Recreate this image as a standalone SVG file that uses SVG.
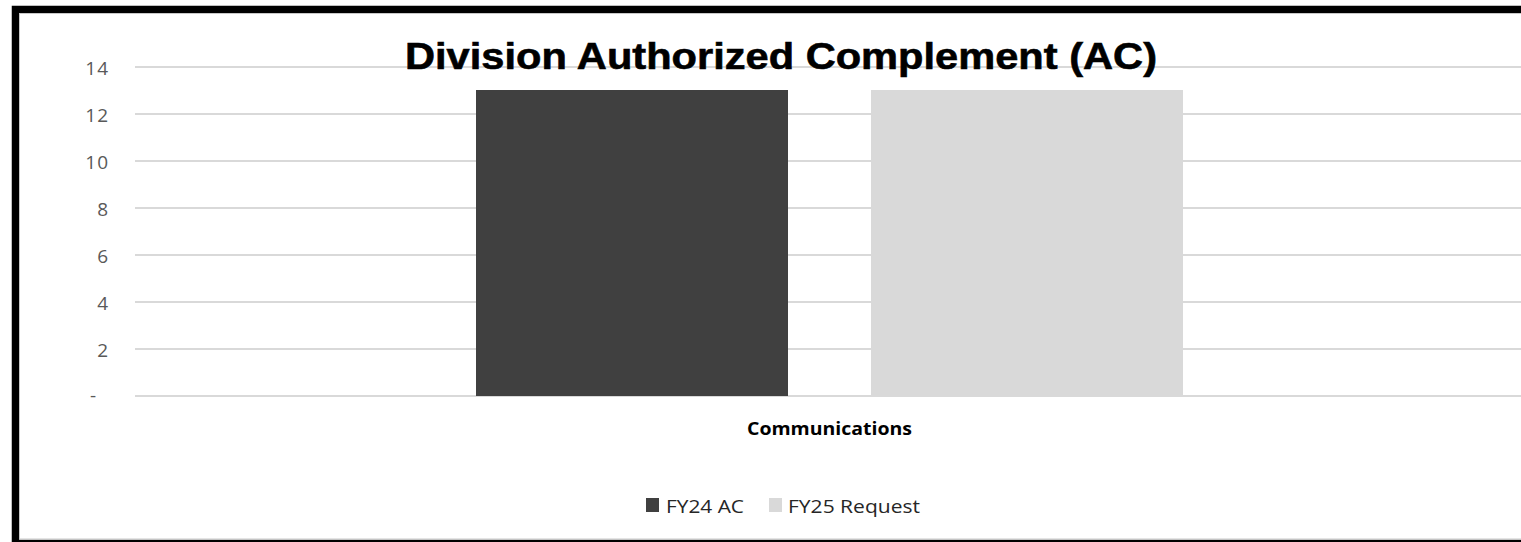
<svg xmlns="http://www.w3.org/2000/svg" width="1521" height="542" viewBox="0 0 1521 542">
<style>
.grid{stroke:#d9d9d9;stroke-width:2;fill:none}
.ytick{font-family:"Open Sans","Liberation Sans",sans-serif;font-size:19px;letter-spacing:1px;fill:#595959;text-anchor:end}
.title{font-family:"Liberation Sans",Arial,sans-serif;font-weight:bold;font-size:37px;fill:#000;stroke:#000;stroke-width:0.6}
.cat{font-family:"Open Sans","Liberation Sans",sans-serif;font-weight:bold;font-size:18px;fill:#000}
.leg{font-family:"Open Sans","Liberation Sans",sans-serif;font-size:19px;fill:#262626}
</style>
<rect x="0" y="0" width="1521" height="542" fill="#ffffff"/>
<g id="frame">
<rect x="15.5" y="9.5" width="1600" height="534" fill="none" stroke="#000" stroke-width="7.5"/>
<rect x="19.5" y="13.5" width="1600" height="525.5" fill="none" stroke="#c8c8c8" stroke-width="1"/>
</g>
<g id="gridlines">
<line class="grid" x1="135" y1="67" x2="1521" y2="67"/>
<line class="grid" x1="135" y1="114" x2="1521" y2="114"/>
<line class="grid" x1="135" y1="161" x2="1521" y2="161"/>
<line class="grid" x1="135" y1="208" x2="1521" y2="208"/>
<line class="grid" x1="135" y1="255" x2="1521" y2="255"/>
<line class="grid" x1="135" y1="302" x2="1521" y2="302"/>
<line class="grid" x1="135" y1="349" x2="1521" y2="349"/>
<line class="grid" x1="135" y1="396" x2="1521" y2="396"/>
</g>
<g id="y-axis">
<text class="ytick" x="109" y="75">14</text>
<text class="ytick" x="109" y="122">12</text>
<text class="ytick" x="109" y="169">10</text>
<text class="ytick" x="109" y="216">8</text>
<text class="ytick" x="109" y="263">6</text>
<text class="ytick" x="109" y="310">4</text>
<text class="ytick" x="109" y="357">2</text>
<text class="ytick" x="97" y="402">-</text>
</g>
<g id="bar-fy24">
<rect x="476" y="90" width="312" height="306" fill="#404040"/>
</g>
<g id="bar-fy25">
<rect x="871" y="90" width="312" height="306" fill="#d9d9d9"/>
</g>
<g id="title">
<text class="title" x="405" y="69" textLength="752" lengthAdjust="spacingAndGlyphs">Division Authorized Complement (AC)</text>
</g>
<g id="category">
<text class="cat" x="747" y="435" textLength="165" lengthAdjust="spacingAndGlyphs">Communications</text>
</g>
<g id="legend">
<rect x="646" y="498" width="13" height="14" fill="#404040"/>
<text class="leg" x="666" y="513" textLength="78" lengthAdjust="spacingAndGlyphs">FY24 AC</text>
<rect x="769" y="498" width="13" height="14" fill="#d9d9d9"/>
<text class="leg" x="788" y="513" textLength="132" lengthAdjust="spacingAndGlyphs">FY25 Request</text>
</g>
</svg>
